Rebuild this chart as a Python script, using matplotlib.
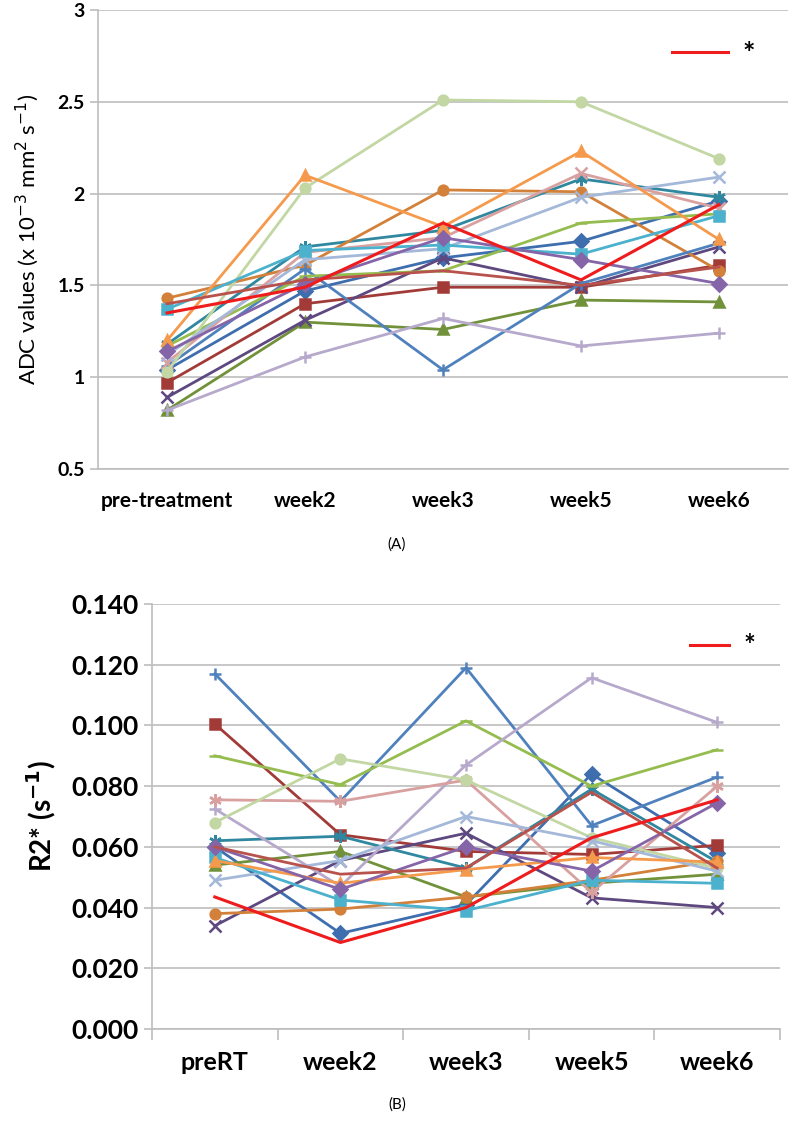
import matplotlib
matplotlib.use("Agg")
import matplotlib.pyplot as plt

plt.rcParams['font.family'] = ['Lato', 'DejaVu Sans']
plt.rcParams['mathtext.fontset'] = 'dejavusans'

# ---- panel A: ADC ----
adc_labels = ['pre-treatment', 'week2', 'week3', 'week5', 'week6']
adc_blue_diamond = [1.04, 1.47, 1.65, 1.74, 1.96]
adc_darkred_square = [0.97, 1.40, 1.49, 1.49, 1.61]
adc_green_triangle = [0.82, 1.30, 1.26, 1.42, 1.41]
adc_purple_x = [0.89, 1.31, 1.65, 1.49, 1.71]
adc_teal_star = [1.18, 1.71, 1.80, 2.08, 1.98]
adc_orange_circle = [1.43, 1.61, 2.02, 2.01, 1.58]
adc_blue_plus = [1.06, 1.59, 1.04, 1.51, 1.73]
adc_green_dash = [1.17, 1.55, 1.58, 1.84, 1.89]
adc_lavender_plus = [0.82, 1.11, 1.32, 1.17, 1.24]
adc_pink_x = [1.08, 1.68, 1.76, 2.11, 1.92]
adc_lightgreen_circle = [1.03, 2.03, 2.51, 2.50, 2.19]
adc_lightblue_x = [1.12, 1.64, 1.70, 1.98, 2.09]
adc_cyan_square = [1.37, 1.69, 1.72, 1.67, 1.88]
adc_orange_triangle = [1.20, 2.10, 1.82, 2.23, 1.75]
adc_purple_diamond = [1.14, 1.51, 1.76, 1.64, 1.51]
adc_brown_line = [1.40, 1.53, 1.58, 1.50, 1.60]
adc_red = [1.35, 1.49, 1.84, 1.53, 1.94]

# ---- panel B: R2* ----
r2_labels = ['preRT', 'week2', 'week3', 'week5', 'week6']
r2_blue_diamond = [0.060, 0.0315, 0.041, 0.084, 0.058]
r2_darkred_square = [0.1005, 0.064, 0.0585, 0.0575, 0.0605]
r2_green_triangle = [0.054, 0.0585, 0.0435, 0.048, 0.051]
r2_purple_x = [0.034, 0.0555, 0.0645, 0.0432, 0.040]
r2_teal_star = [0.062, 0.0635, 0.053, 0.079, 0.055]
r2_orange_circle = [0.038, 0.0395, 0.0435, 0.049, 0.0555]
r2_blue_plus = [0.117, 0.075, 0.119, 0.067, 0.083]
r2_green_dash = [0.090, 0.0805, 0.1015, 0.080, 0.092]
r2_lavender_plus = [0.0725, 0.047, 0.087, 0.1157, 0.101]
r2_pink_star = [0.0755, 0.075, 0.082, 0.045, 0.080]
r2_lightgreen_circle = [0.068, 0.089, 0.082, 0.063, 0.053]
r2_lightblue_x = [0.049, 0.0555, 0.070, 0.062, 0.052]
r2_cyan_square = [0.0565, 0.0425, 0.039, 0.049, 0.048]
r2_orange_triangle = [0.0555, 0.048, 0.0525, 0.0565, 0.055]
r2_purple_diamond = [0.060, 0.046, 0.060, 0.052, 0.0745]
r2_brown_line = [0.060, 0.051, 0.053, 0.078, 0.053]
r2_red = [0.0435, 0.0285, 0.040, 0.063, 0.0755]

ast = (6, 2, 0)
styles = [
    # key, color, marker
    ('blue_diamond', '#3E6EAE', 'D'),
    ('darkred_square', '#A23B38', 's'),
    ('green_triangle', '#71913A', '^'),
    ('purple_x', '#5E4880', 'x'),
    ('teal_star', '#2F88A0', ast),
    ('orange_circle', '#D3813A', 'o'),
    ('blue_plus', '#4F81BD', '+'),
    ('green_dash', '#95BC4E', '_'),
    ('lavender_plus', '#B6A9CC', '+'),
    ('pink_x', '#D9A0A0', 'x'),
    ('pink_star', '#D9A0A0', ast),
    ('lightgreen_circle', '#C2D7A3', 'o'),
    ('lightblue_x', '#A4B8DA', 'x'),
    ('cyan_square', '#4BB1CD', 's'),
    ('orange_triangle', '#F59A4C', '^'),
    ('purple_diamond', '#8564A8', 'D'),
    ('brown_line', '#B8524C', None),
]
style_map = {k: (c, m) for k, c, m in styles}

adc_series = {
    'blue_diamond': adc_blue_diamond, 'darkred_square': adc_darkred_square,
    'green_triangle': adc_green_triangle, 'purple_x': adc_purple_x,
    'teal_star': adc_teal_star, 'orange_circle': adc_orange_circle,
    'blue_plus': adc_blue_plus, 'green_dash': adc_green_dash,
    'lavender_plus': adc_lavender_plus, 'pink_x': adc_pink_x,
    'lightgreen_circle': adc_lightgreen_circle, 'lightblue_x': adc_lightblue_x,
    'cyan_square': adc_cyan_square, 'orange_triangle': adc_orange_triangle,
    'purple_diamond': adc_purple_diamond, 'brown_line': adc_brown_line,
}
r2_series = {
    'blue_diamond': r2_blue_diamond, 'darkred_square': r2_darkred_square,
    'green_triangle': r2_green_triangle, 'purple_x': r2_purple_x,
    'teal_star': r2_teal_star, 'orange_circle': r2_orange_circle,
    'blue_plus': r2_blue_plus, 'green_dash': r2_green_dash,
    'lavender_plus': r2_lavender_plus, 'pink_star': r2_pink_star,
    'lightgreen_circle': r2_lightgreen_circle, 'lightblue_x': r2_lightblue_x,
    'cyan_square': r2_cyan_square, 'orange_triangle': r2_orange_triangle,
    'purple_diamond': r2_purple_diamond, 'brown_line': r2_brown_line,
}

fig = plt.figure(figsize=(7.95, 11.26), dpi=100)
W, H = 795, 1126


def draw_series(ax, series, red, x):
    for key, vals in series.items():
        c, m = style_map[key]
        ms = 7 if m in ('D', 's', '^', 'o') else 9
        ax.plot(x, vals, color=c, lw=2, marker=m, ms=ms, mew=1.8, zorder=2)
    ax.plot(x, red, color='#EE1C1C', lw=2.2, zorder=3, label='*')


def style_axes(ax):
    for s in ['top', 'right']:
        ax.spines[s].set_visible(False)
    for s in ['left', 'bottom']:
        ax.spines[s].set_color('#BDBDBD')
        ax.spines[s].set_linewidth(1.2)
    ax.yaxis.grid(True, color='#BDBDBD', lw=1.2)
    ax.set_axisbelow(True)
    ax.tick_params(axis='y', length=6, color='#BDBDBD', width=1.2)


# top panel
ax1 = fig.add_axes([98 / W, 1 - 469 / H, 690 / W, 459 / H])
x1 = range(len(adc_labels))
draw_series(ax1, adc_series, adc_red, x1)
ax1.set_xlim(-0.5, len(adc_labels) - 0.5)
ax1.set_ylim(0.5, 3)
ax1.set_yticks([0.5, 1, 1.5, 2, 2.5, 3])
ax1.set_yticklabels(['0.5', '1', '1.5', '2', '2.5', '3'], fontsize=14, fontweight='bold')
ax1.set_xticks(list(x1))
ax1.set_xticklabels(adc_labels, fontsize=15, fontweight='bold')
ax1.tick_params(axis='x', length=0, pad=16)
style_axes(ax1)
ax1.set_ylabel('ADC values (x 10$^{-3}$ mm$^{2}$ s$^{-1}$)', fontsize=16, labelpad=12)
ax1.legend(loc='upper right', bbox_to_anchor=(0.99, 0.99), frameon=False,
           handlelength=1.9, handletextpad=0.5, prop={'weight': 'bold', 'size': 21})

# bottom panel
ax2 = fig.add_axes([152 / W, 1 - 1029 / H, 628 / W, 425 / H])
x2 = range(len(r2_labels))
draw_series(ax2, r2_series, r2_red, x2)
ax2.set_xlim(-0.5, len(r2_labels) - 0.5)
ax2.set_ylim(0, 0.14)
ax2.set_yticks([i * 0.02 for i in range(8)])
ax2.set_yticklabels(['%.3f' % (i * 0.02) for i in range(8)], fontsize=19, fontweight='bold')
ax2.set_xticks(list(x2))
ax2.set_xticklabels(r2_labels, fontsize=18, fontweight='bold')
ax2.set_xticks([i - 0.5 for i in range(len(r2_labels) + 1)], minor=True)
ax2.tick_params(axis='x', which='major', length=0, pad=16)
ax2.tick_params(axis='x', which='minor', length=8, color='#BDBDBD', width=1.2)
style_axes(ax2)
ax2.set_ylabel('R2* (s$^{\\mathbf{-1}}$)', fontsize=20, fontweight='bold', labelpad=10)
ax2.legend(loc='upper right', bbox_to_anchor=(1.0, 0.99), frameon=False,
           handlelength=1.4, handletextpad=0.5, prop={'weight': 'bold', 'size': 20})

fig.text(397 / W, 1 - 545 / H, '(A)', ha='center', va='center', fontsize=11)
fig.text(397 / W, 1 - 1105 / H, '(B)', ha='center', va='center', fontsize=11)

fig.savefig('out.png', dpi=100)
